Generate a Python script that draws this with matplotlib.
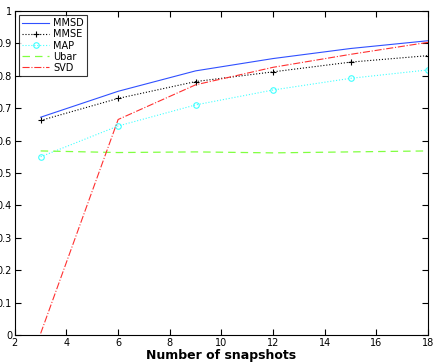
import numpy as np
import matplotlib
matplotlib.use("Agg")
import matplotlib.pyplot as plt

snapshots = [3, 6, 9, 12, 15, 18]
mmsd = [0.672, 0.752, 0.815, 0.853, 0.884, 0.908]
mmse = [0.662, 0.730, 0.782, 0.812, 0.842, 0.862]
map_est = [0.550, 0.645, 0.710, 0.756, 0.792, 0.818]
ubar = [0.568, 0.563, 0.565, 0.562, 0.565, 0.568]
svd = [0.005, 0.665, 0.772, 0.826, 0.866, 0.903]

fig = plt.figure(figsize=(4.36, 3.63), dpi=100)
ax = fig.add_axes([0.034, 0.077, 0.948, 0.893])

ax.plot(snapshots, mmsd, color='#3050ff', lw=0.8, label='MMSD')
ax.plot(snapshots, mmse, color='k', ls=':', lw=0.8, marker='+', ms=5, mew=0.8, label='MMSE')
ax.plot(snapshots, map_est, color='#40ffff', ls=':', lw=0.8, marker='o', ms=4, mfc='none', mew=0.8, label='MAP')
ax.plot(snapshots, ubar, color='#80ff40', ls='--', lw=0.9, dashes=(6, 4), label='Ubar')
ax.plot(snapshots, svd, color='#ff3030', ls='-.', lw=0.8, label='SVD')

ax.set_xlim(2, 18)
ax.set_ylim(0, 1)
ax.set_xticks(np.arange(2, 19, 2))
ax.set_yticks(np.arange(0, 1.01, 0.1))
ax.set_yticklabels(['0', '0.1', '0.2', '0.3', '0.4', '0.5', '0.6', '0.7', '0.8', '0.9', '1'])
ax.tick_params(direction='in', top=True, right=True, labelsize=7, length=4, pad=2)
ax.set_xlabel('Number of snapshots', fontsize=9, fontweight='bold', labelpad=1)

leg = ax.legend(loc='upper left', fontsize=7, frameon=True, fancybox=False,
                edgecolor='k', handlelength=2.8, handletextpad=0.4,
                borderaxespad=0.4, labelspacing=0.12, borderpad=0.35)
leg.get_frame().set_linewidth(0.8)

fig.savefig('out.png', dpi=100)
